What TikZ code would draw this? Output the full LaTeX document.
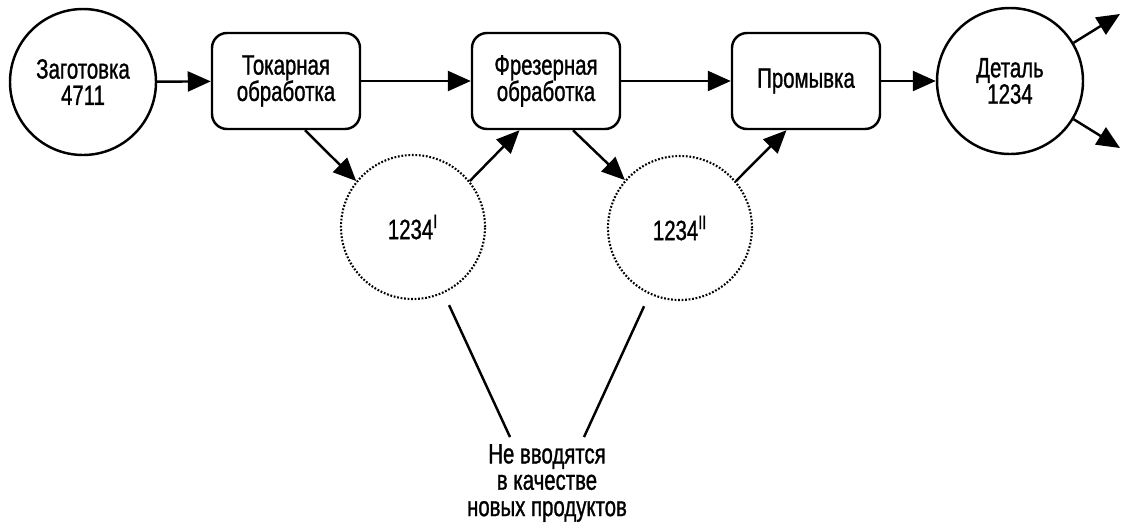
\documentclass[tikz,border=0pt]{standalone}
\usepackage{fontspec}
\setmainfont{Liberation Sans}[FakeStretch=0.73, FakeBold=1]
\usetikzlibrary{arrows.meta, positioning}

\begin{document}
\begin{tikzpicture}[x=0.2mm, y=-0.2mm, line width=1.4pt,
    font=\fontsize{15.9}{15}\selectfont,
    stock/.style={circle, draw, minimum size=29.2mm, inner sep=0pt, align=center},
    opbox/.style={draw, rounded corners=3mm, minimum width=29.6mm, minimum height=19.2mm, align=center},
    interim/.style={circle, draw, line width=1.2pt, dash pattern=on 1pt off 1pt, minimum size=28.8mm},
    flow/.style={-{Triangle[length=4.6mm, width=4mm]}}]
    \useasboundingbox (0,0) rectangle (1126,524);

    \node[stock] (blank) at (83,82) {Заготовка\\4711};
    \node[opbox] (turn) at (286,81) {Токарная\\обработка};
    \node[opbox] (mill) at (546,81) {Фрезерная\\обработка};
    \node[opbox] (wash) at (806,81) {Промывка};
    \node[stock] (part) at (1010,81) {Деталь\\1234};

    \node[interim] (semi1) at (413,227) {1234\textsuperscript{I}};
    \node[interim] (semi2) at (680,228) {1234\textsuperscript{II}};

    \node[align=center] (note) at (547,483) {Не вводятся\\в качестве\\новых продуктов};

    \coordinate (out1) at (1120,14);
    \coordinate (out2) at (1120,148);

    \draw[flow] (blank) -- (turn);
    \draw[flow] (turn) -- (mill);
    \draw[flow] (mill) -- (wash);
    \draw[flow] (wash) -- (part);
    \draw[flow] (part.31) -- (out1);
    \draw[flow] (part.-31) -- (out2);

    \draw[flow] ([xshift=3.8mm]turn.south) -- (semi1.141);
    \draw[flow] (semi1.39) -- ([xshift=-5.3mm]mill.south);
    \draw[flow] ([xshift=5.4mm]mill.south) -- (semi2.139);
    \draw[flow] (semi2.40) -- ([xshift=-3.9mm]wash.south);

    \draw[shorten <=2.6mm] (semi1) -- ([xshift=-7.4mm]note.north);
    \draw[shorten <=2.6mm] (semi2) -- ([xshift=7.4mm]note.north);
\end{tikzpicture}
\end{document}
